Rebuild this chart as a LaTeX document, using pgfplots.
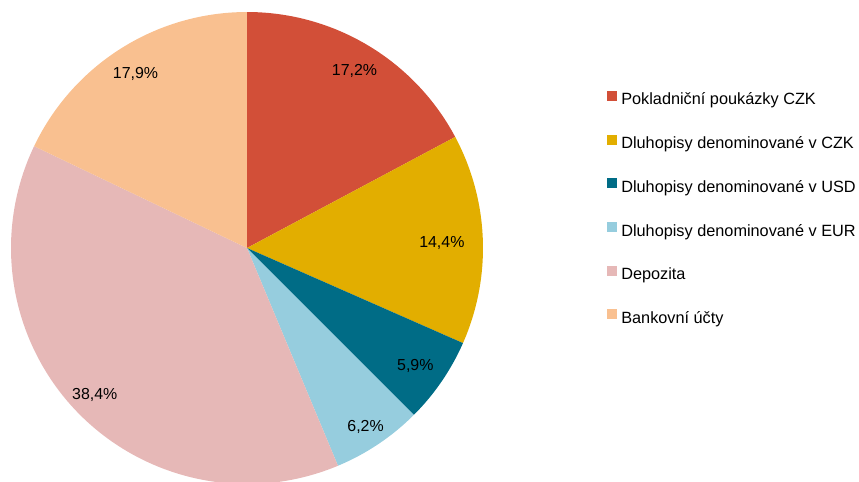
\documentclass[border=0pt]{standalone}
\usepackage{fontspec}
\setmainfont{Liberation Sans}
\usepackage{pgfplots}
\usepackage{pgfplotstable}
\pgfplotsset{compat=1.18}
\definecolor{cA}{HTML}{D24F38}
\definecolor{cB}{HTML}{E2AE00}
\definecolor{cC}{HTML}{006C86}
\definecolor{cD}{HTML}{96CDDE}
\definecolor{cE}{HTML}{E6B8B7}
\definecolor{cF}{HTML}{F9C090}
\newcommand\lbl{\fontsize{13.6}{16}\selectfont}
\newcommand\leg{\fontsize{13.9}{16}\selectfont}

% shares in %, clockwise from 12 o'clock; lr = label distance from centre (px)
\pgfplotstableread[col sep=comma]{
share,color,lr
17.2,cA,209
14.4,cB,195
5.9,cC,204
6.2,cD,213
38.4,cE,210
17.9,cF,209
}\piedata

% build the wedges from the table (centre 247,234 px; radius 236 px = 7.08cm)
\def\piecmds{}
\def\cum{0}
\pgfplotsforeachungrouped \i in {0,...,5}{%
  \pgfplotstablegetelem{\i}{share}\of\piedata \let\sliceval\pgfplotsretval
  \pgfplotstablegetelem{\i}{color}\of\piedata \let\slicecol\pgfplotsretval
  \pgfplotstablegetelem{\i}{lr}\of\piedata \let\slicelr\pgfplotsretval
  \pgfmathsetmacro\sa{90-3.6*\cum}%
  \pgfmathsetmacro\sb{90-3.6*(\cum+\sliceval)}%
  \pgfmathsetmacro\sm{(\sa+\sb)/2}%
  \pgfmathsetmacro\lx{247+\slicelr*cos(\sm)}%
  \pgfmathsetmacro\ly{231.5+\slicelr*sin(\sm)}%
  \xdef\piecmds{\unexpanded\expandafter{\piecmds}%
    \noexpand\fill[\slicecol] (axis cs:247,234) -- ++(\sa:7.08cm)
      arc[start angle=\sa, end angle=\sb, radius=7.08cm] -- cycle;
    \noexpand\node[font=\noexpand\lbl] at (axis cs:\lx,\ly)
      {\noexpand\pgfmathprintnumber[fixed,fixed zerofill,precision=1,use comma,assume math mode=true]{\sliceval}\noexpand\%};}%
  \pgfmathsetmacro\cum{\cum+\sliceval}%
}

\begin{document}
\begin{tikzpicture}
\begin{axis}[at={(0,0)}, anchor=south west, scale only axis,
  x=0.03cm, y=0.03cm, xmin=0, xmax=859, ymin=0, ymax=482,
  enlargelimits=false, hide axis, clip=false,
  legend style={at={(0.7066,0.8122)}, anchor=north west, draw=none, fill=none,
    font=\leg, cells={anchor=west}, row sep=20.8pt, inner sep=0pt,
    nodes={inner sep=1.5pt, text height=10pt, text depth=3pt},
    /tikz/every odd column/.append style={column sep=2pt}},
  legend image code/.code={\fill[#1] (0cm,0cm) rectangle (0.3cm,0.3cm);}]
\piecmds
\addlegendimage{fill=cA, draw=none}
\addlegendimage{fill=cB, draw=none}
\addlegendimage{fill=cC, draw=none}
\addlegendimage{fill=cD, draw=none}
\addlegendimage{fill=cE, draw=none}
\addlegendimage{fill=cF, draw=none}
\legend{Pokladniční poukázky CZK, Dluhopisy denominované v CZK,
  Dluhopisy denominované v USD, Dluhopisy denominované v EUR,
  Depozita, Bankovní účty}
\end{axis}
\pgfresetboundingbox
\useasboundingbox (0,0) rectangle (25.77cm,14.46cm);
\end{tikzpicture}
\end{document}
